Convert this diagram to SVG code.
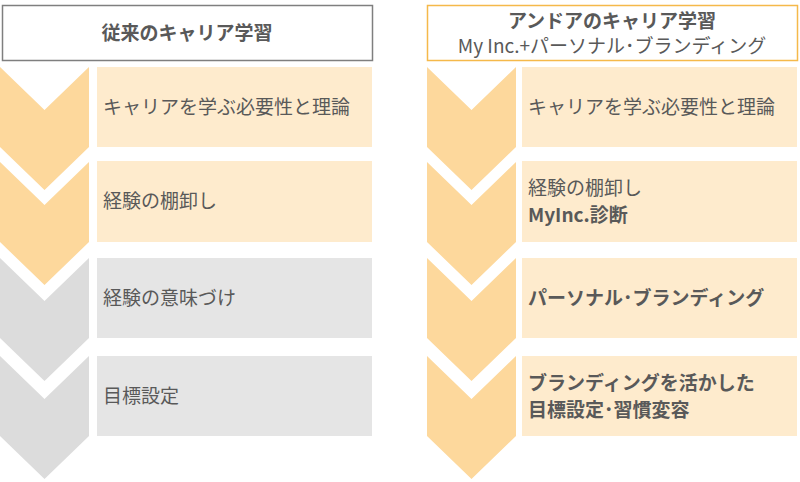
<svg xmlns="http://www.w3.org/2000/svg" width="800" height="482" viewBox="0 0 800 482">
<style>
.o{fill:#FDD89C}.g{fill:#DCDCDC}.bo{fill:#FEEBCD}.bg{fill:#E5E5E5}
text{font-family:"Noto Sans CJK JP","Liberation Sans",sans-serif;fill:#595959;font-size:19px}
.b{font-weight:bold}
</style>
<defs>
<path id="ch" d="M0,0 L44.5,43 L89,0 L89,80 L44.5,123 L0,80 Z"/>
</defs>
<g id="left-header"><rect x="2.5" y="5.5" width="370" height="55" fill="#fff" stroke="#7f7f7f" stroke-width="1.5"/><text class="b" x="187" y="40" text-anchor="middle">従来のキャリア学習</text></g>
<g id="right-header"><rect x="427.5" y="5.5" width="370" height="55" fill="#fff" stroke="#F5B94A" stroke-width="1.5"/><text class="b" x="612" y="28" text-anchor="middle">アンドアのキャリア学習</text><text x="612" y="53" text-anchor="middle">My Inc.+パーソナル･ブランディング</text></g>
<g id="left-chevrons">
<use href="#ch" class="o" x="0" y="67"/><use href="#ch" class="o" x="0" y="162"/><use href="#ch" class="g" x="0" y="258"/><use href="#ch" class="g" x="0" y="356"/>
</g>
<g id="right-chevrons">
<use href="#ch" class="o" x="427" y="67"/><use href="#ch" class="o" x="427" y="162"/><use href="#ch" class="o" x="427" y="258"/><use href="#ch" class="o" x="427" y="356"/>
</g>
<g id="l1"><rect class="bo" x="97" y="67" width="275" height="80"/><text x="103" y="114">キャリアを学ぶ必要性と理論</text></g>
<g id="l2"><rect class="bo" x="97" y="161" width="275" height="81"/><text x="103" y="208">経験の棚卸し</text></g>
<g id="l3"><rect class="bg" x="97" y="258" width="275" height="80"/><text x="103" y="305">経験の意味づけ</text></g>
<g id="l4"><rect class="bg" x="97" y="356" width="275" height="80"/><text x="103" y="403">目標設定</text></g>
<g id="r1"><rect class="bo" x="522" y="67" width="275" height="80"/><text x="528" y="114">キャリアを学ぶ必要性と理論</text></g>
<g id="r2"><rect class="bo" x="522" y="161" width="275" height="81"/><text x="528" y="195">経験の棚卸し</text><text class="b" x="528" y="222">MyInc.診断</text></g>
<g id="r3"><rect class="bo" x="522" y="258" width="275" height="80"/><text class="b" x="528" y="305">パーソナル･ブランディング</text></g>
<g id="r4"><rect class="bo" x="522" y="356" width="275" height="80"/><text class="b" x="528" y="390">ブランディングを活かした</text><text class="b" x="528" y="417">目標設定･習慣変容</text></g>
<g id="connectors"/>
</svg>
